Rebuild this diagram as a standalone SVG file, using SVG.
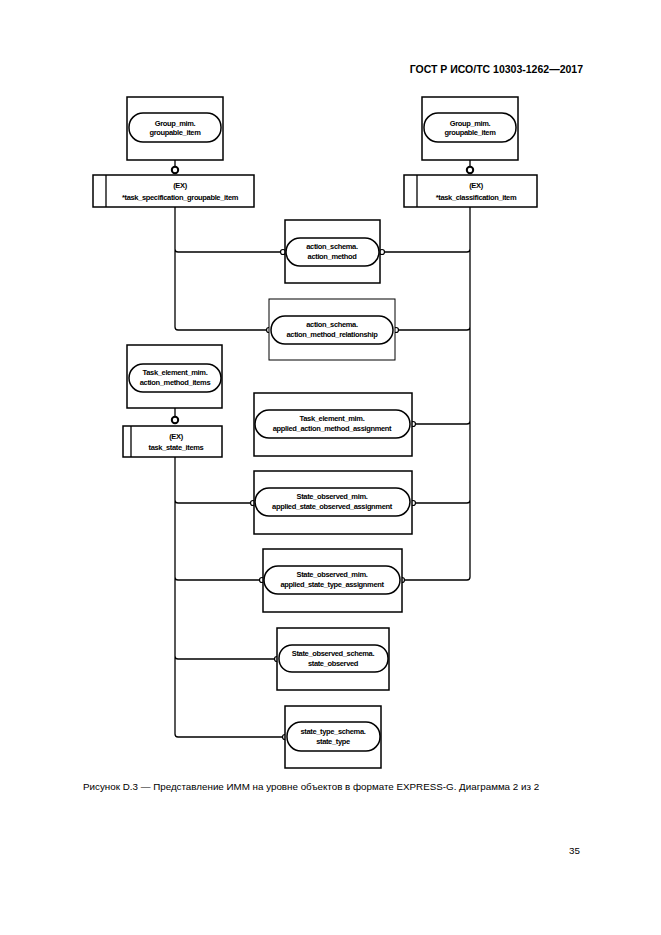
<svg xmlns="http://www.w3.org/2000/svg" width="661" height="935" viewBox="0 0 661 935">
<style>
.box{fill:#fff;stroke:#000;stroke-width:1.5}
.thin{fill:#fff;stroke:#000;stroke-width:1}
.pill{fill:#fff;stroke:#000;stroke-width:1.5}
.ln{fill:none;stroke:#000;stroke-width:1.3}
.oc{fill:#fff;stroke:#000;stroke-width:1.2}
.t{font-family:"Liberation Sans",Arial,sans-serif;font-size:7.5px;font-weight:bold;text-anchor:middle;letter-spacing:-0.35px}
.h{font-family:"Liberation Sans",Arial,sans-serif;font-size:10.5px;font-weight:bold}
.c{font-family:"Liberation Sans",Arial,sans-serif;font-size:9.8px}
</style>
<rect width="661" height="935" fill="#fff"/>
<text class="h" x="583" y="73" text-anchor="end">ГОСТ Р ИСО/ТС 10303-1262—2017</text>
<g id="connectors">
<path class="ln" d="M175,160 V167 M470,160 V167 M175,408 V417"/>
<path class="ln" d="M175,207 V327 Q175,330 178,330 H267 M175,249 Q175,252 178,252 H280"/>
<path class="ln" d="M470,207 V577 Q470,580 467,580 H404 M470,249 Q470,252 467,252 H384 M470,327 Q470,330 467,330 H399 M470,421 Q470,424 467,424 H416 M470,500 Q470,503 467,503 H416"/>
<path class="ln" d="M175,457 V734 Q175,737 178,737 H283 M175,500 Q175,503 178,503 H251 M175,577 Q175,580 178,580 H260 M175,656 Q175,659 178,659 H275"/>
<circle cx="175" cy="170" r="3.2" fill="#fff" stroke="#000" stroke-width="2"/>
<circle cx="470" cy="170" r="3.2" fill="#fff" stroke="#000" stroke-width="2"/>
<circle cx="175" cy="420" r="3.2" fill="#fff" stroke="#000" stroke-width="2"/>
<circle class="oc" cx="283" cy="252" r="2.5"/><circle class="oc" cx="382" cy="252" r="2.5"/>
<circle class="oc" cx="269" cy="330" r="2.5"/><circle class="oc" cx="396" cy="330" r="2.5"/>
<circle class="oc" cx="413" cy="424" r="2.5"/>
<circle class="oc" cx="253" cy="503" r="2.5"/><circle class="oc" cx="413" cy="503" r="2.5"/>
<circle class="oc" cx="262" cy="580" r="2.5"/><circle class="oc" cx="402" cy="580" r="2.5"/>
<circle class="oc" cx="277" cy="659" r="2.5"/>
<circle class="oc" cx="285" cy="737" r="2.5"/>
</g>
<g id="group_left"><rect class="box" x="127" y="97" width="96" height="63"/><rect class="pill" x="129" y="113" width="92" height="29" rx="14"/><text class="t" x="175" y="126">Group_mim.</text><text class="t" x="175" y="135">groupable_item</text></g>
<g id="group_right"><rect class="box" x="422" y="97" width="96" height="63"/><rect class="pill" x="424" y="113" width="92" height="29" rx="14"/><text class="t" x="470" y="126">Group_mim.</text><text class="t" x="470" y="135">groupable_item</text></g>
<g id="ex_left"><rect class="box" x="93" y="175" width="161" height="32"/><line class="ln" x1="106" y1="175" x2="106" y2="207"/><text class="t" x="180" y="188">(EX)</text><text class="t" x="180" y="200">*task_specification_groupable_item</text></g>
<g id="ex_right"><rect class="box" x="404" y="175" width="133" height="32"/><line class="ln" x1="417" y1="175" x2="417" y2="207"/><text class="t" x="476" y="188">(EX)</text><text class="t" x="476" y="200">*task_classification_item</text></g>
<g id="action_method"><rect class="box" x="285" y="220" width="95" height="63"/><rect class="pill" x="286" y="238" width="93" height="28" rx="14"/><text class="t" x="332" y="249">action_schema.</text><text class="t" x="332" y="259">action_method</text></g>
<g id="action_method_relationship"><rect class="thin" x="269" y="299" width="126" height="61"/><rect class="pill" x="271" y="316" width="122" height="28" rx="14"/><text class="t" x="332" y="327">action_schema.</text><text class="t" x="332" y="337">action_method_relationship</text></g>
<g id="action_method_items"><rect class="box" x="127" y="345" width="95" height="63"/><rect class="pill" x="129" y="364" width="92" height="28" rx="14"/><text class="t" x="175" y="375">Task_element_mim.</text><text class="t" x="175" y="385">action_method_items</text></g>
<g id="ex_task_state"><rect class="box" x="123" y="426" width="99" height="31"/><line class="ln" x1="131" y1="426" x2="131" y2="457"/><text class="t" x="176" y="439">(EX)</text><text class="t" x="176" y="450">task_state_items</text></g>
<g id="aama"><rect class="box" x="254" y="393" width="158" height="63"/><rect class="pill" x="255" y="410" width="155" height="28" rx="14"/><text class="t" x="332" y="421">Task_element_mim.</text><text class="t" x="332" y="431">applied_action_method_assignment</text></g>
<g id="asoa"><rect class="box" x="254" y="471" width="158" height="63"/><rect class="pill" x="255" y="488" width="155" height="28" rx="14"/><text class="t" x="332" y="499">State_observed_mim.</text><text class="t" x="332" y="509">applied_state_observed_assignment</text></g>
<g id="asta"><rect class="box" x="263" y="549" width="139" height="63"/><rect class="pill" x="264" y="566" width="136" height="28" rx="14"/><text class="t" x="332" y="577">State_observed_mim.</text><text class="t" x="332" y="587">applied_state_type_assignment</text></g>
<g id="state_observed"><rect class="box" x="277" y="628" width="112" height="62"/><rect class="pill" x="279" y="645" width="109" height="27" rx="13"/><text class="t" x="333" y="656">State_observed_schema.</text><text class="t" x="333" y="666">state_observed</text></g>
<g id="state_type"><rect class="box" x="285" y="706" width="96" height="62"/><rect class="pill" x="287" y="722" width="93" height="29" rx="14"/><text class="t" x="333" y="734">state_type_schema.</text><text class="t" x="333" y="744">state_type</text></g>
<text class="c" x="83" y="790">Рисунок D.3 — Представление ИММ на уровне объектов в формате EXPRESS-G. Диаграмма 2 из 2</text>
<text class="c" x="580" y="854" text-anchor="end">35</text>
</svg>
